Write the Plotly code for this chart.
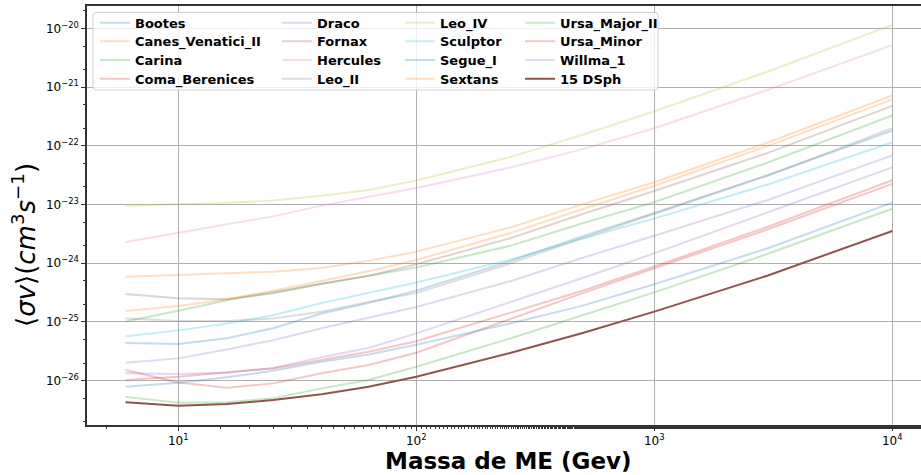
import plotly.graph_objects as go

mass = [6, 10, 16, 25, 40, 63, 100, 250, 500, 1000, 3000, 10000]

Bootes = [4.4e-26, 4.2e-26, 5.3e-26, 7.8e-26, 1.4e-25, 2.1e-25, 3.4e-25, 1.1e-24, 2.9e-24, 7.2e-24, 3.2e-23, 1.82e-22]
Canes_Venatici_II = [5.9e-25, 6.4e-25, 6.7e-25, 7.2e-25, 8.3e-25, 1.1e-24, 1.58e-24, 4.1e-24, 1.02e-23, 2.4e-23, 1.14e-22, 7.2e-22]
Carina = [1.02e-25, 1.55e-25, 2.35e-25, 3.2e-25, 4.5e-25, 6.0e-25, 8.5e-25, 2.0e-24, 4.8e-24, 1.1e-23, 5.2e-23, 3.3e-22]
Coma_Berenices = [1.52e-26, 9.3e-27, 7.6e-27, 9.0e-27, 1.34e-26, 1.85e-26, 3.0e-26, 1.15e-25, 3.1e-25, 8.2e-25, 3.8e-24, 2.25e-23]
Draco = [2.03e-26, 2.4e-26, 3.4e-26, 4.9e-26, 7.8e-26, 1.18e-25, 1.8e-25, 5.0e-25, 1.24e-24, 2.95e-24, 1.2e-23, 6.9e-23]
Fornax = [3.0e-25, 2.55e-25, 2.45e-25, 3.1e-25, 4.5e-25, 6.1e-25, 9.6e-25, 2.7e-24, 6.9e-24, 1.7e-23, 7.6e-23, 4.8e-22]
Hercules = [2.3e-24, 3.3e-24, 4.6e-24, 6.3e-24, 9.6e-24, 1.37e-23, 1.92e-23, 4.3e-23, 8.8e-23, 2.0e-22, 9.0e-22, 5.2e-21]
Leo_II = [1.15e-25, 1.04e-25, 1.04e-25, 1.15e-25, 1.5e-25, 2.2e-25, 3.1e-25, 1.0e-24, 2.7e-24, 6.9e-24, 3.1e-23, 2.0e-22]
Leo_IV = [9.6e-24, 1.01e-23, 1.07e-23, 1.17e-23, 1.42e-23, 1.78e-23, 2.57e-23, 6.5e-23, 1.55e-22, 3.9e-22, 1.85e-21, 1.15e-20]
Sculptor = [5.7e-26, 7.2e-26, 9.4e-26, 1.3e-25, 2.1e-25, 3.1e-25, 4.7e-25, 1.16e-24, 2.65e-24, 5.8e-24, 2.2e-23, 1.15e-22]
Segue_I = [7.9e-27, 9.2e-27, 1.14e-26, 1.48e-26, 2.1e-26, 2.8e-26, 4.1e-26, 9.5e-26, 1.9e-25, 4.4e-25, 1.8e-24, 1.08e-23]
Sextans = [1.54e-25, 1.87e-25, 2.45e-25, 3.4e-25, 5.0e-25, 7.3e-25, 1.14e-24, 3.3e-24, 8.4e-24, 2.1e-23, 1.0e-22, 6.2e-22]
Ursa_Major_II = [5.3e-27, 4.2e-27, 4.3e-27, 5.0e-27, 7.4e-27, 1.03e-26, 1.73e-26, 5.3e-26, 1.3e-25, 3.2e-25, 1.45e-24, 8.5e-24]
Ursa_Minor = [1.03e-26, 1.17e-26, 1.39e-26, 1.62e-26, 2.25e-26, 3.1e-26, 4.7e-26, 1.45e-25, 3.4e-25, 8.8e-25, 4.2e-24, 2.6e-23]
Willma_1 = [1.34e-26, 1.3e-26, 1.37e-26, 1.65e-26, 2.5e-26, 3.6e-26, 6.4e-26, 2.2e-25, 5.6e-25, 1.48e-24, 7.4e-24, 4.3e-23]
DSph15 = [4.3e-27, 3.75e-27, 4.0e-27, 4.7e-27, 5.9e-27, 7.9e-27, 1.17e-26, 3.0e-26, 6.5e-26, 1.5e-25, 6.2e-25, 3.55e-24]

names = ["Bootes", "Canes_Venatici_II", "Carina", "Coma_Berenices", "Draco", "Fornax",
         "Hercules", "Leo_II", "Leo_IV", "Sculptor", "Segue_I", "Sextans",
         "Ursa_Major_II", "Ursa_Minor", "Willma_1", "15 DSph"]
series = [Bootes, Canes_Venatici_II, Carina, Coma_Berenices, Draco, Fornax, Hercules,
          Leo_II, Leo_IV, Sculptor, Segue_I, Sextans, Ursa_Major_II, Ursa_Minor,
          Willma_1, DSph15]

tab10 = [(31, 119, 180), (255, 127, 14), (44, 160, 44), (214, 39, 40), (148, 103, 189),
         (140, 86, 75), (227, 119, 194), (127, 127, 127), (188, 189, 34), (23, 190, 207)]

xticks = [10, 100, 1000, 10000]
xtext = ["10<sup>1</sup>", "10<sup>2</sup>", "10<sup>3</sup>", "10<sup>4</sup>"]
yticks = [1e-26, 1e-25, 1e-24, 1e-23, 1e-22, 1e-21, 1e-20]
ytext = ["10<sup>\u221226</sup>", "10<sup>\u221225</sup>", "10<sup>\u221224</sup>",
         "10<sup>\u221223</sup>", "10<sup>\u221222</sup>", "10<sup>\u221221</sup>",
         "10<sup>\u221220</sup>"]

W, H = 921, 475
L, R, T, B = 87, 0, 6, 50
pw, ph = W - L - R, H - T - B

def px2paper_x(p):
    return (p - L) / pw

def px2paper_y(p):
    return (H - B - p) / ph

# one legend per entry so that rows/columns can be placed like matplotlib's ncol=4 legend
col_left = [95, 277, 400, 520]
row_center = [22.7, 41.3, 60.0, 78.7]
leg_font = dict(family="DejaVu Sans", size=13, color="black", weight="bold")

fig = go.Figure()
legs = {}
for i, (nm, ys) in enumerate(zip(names, series)):
    if nm == "15 DSph":
        col = "rgb(140,86,75)"
    else:
        r, g, b = tab10[i % 10]
        col = f"rgba({r},{g},{b},0.26)"
    lid = "legend" if i == 0 else f"legend{i + 1}"
    fig.add_trace(go.Scatter(
        x=mass, y=ys, mode="lines", name=nm,
        line=dict(color=col, width=2),
        legend=lid,
    ))
    c, rr = i // 4, i % 4
    legs[lid] = dict(
        orientation="v", bgcolor="rgba(0,0,0,0)", borderwidth=0,
        font=leg_font, xref="paper", yref="paper", xanchor="left", yanchor="top",
        itemwidth=30,
        x=px2paper_x(col_left[c]), y=px2paper_y(row_center[rr] - 15),
    )

# rounded legend frame
x0, x1 = px2paper_x(93), px2paper_x(658)
y0, y1 = px2paper_y(90), px2paper_y(12.5)
rx, ry = 3 / pw, 3 / ph
frame_path = (f"M {x0 + rx},{y1} L {x1 - rx},{y1} Q {x1},{y1} {x1},{y1 - ry} "
              f"L {x1},{y0 + ry} Q {x1},{y0} {x1 - rx},{y0} L {x0 + rx},{y0} "
              f"Q {x0},{y0} {x0},{y0 + ry} L {x0},{y1 - ry} Q {x0},{y1} {x0 + rx},{y1} Z")

fig.update_layout(
    width=W, height=H,
    margin=dict(l=L, r=R, t=T, b=B, autoexpand=False),
    plot_bgcolor="white", paper_bgcolor="white",
    showlegend=True,
    font=dict(family="DejaVu Sans", size=12, color="black"),
    xaxis=dict(
        type="log", range=[0.6164, 4.1206],
        tickvals=xticks, ticktext=xtext,
        showgrid=True, gridcolor="#b0b0b0", gridwidth=1.2,
        showline=True, linecolor="#333", linewidth=1.5, mirror=True,
        ticks="outside", ticklen=4, tickcolor="#333",
        tickfont=dict(family="DejaVu Sans", size=12, color="black"),
        minor=dict(ticks="outside", ticklen=2.5, tickcolor="#333", showgrid=False),
        zeroline=False,
    ),
    yaxis=dict(
        type="log", range=[-26.7547, -19.617],
        tickvals=yticks, ticktext=ytext,
        showgrid=True, gridcolor="#b0b0b0", gridwidth=1.2,
        showline=True, linecolor="#333", linewidth=1.5, mirror=False,
        ticks="outside", ticklen=4, tickcolor="#333",
        tickfont=dict(family="DejaVu Sans", size=12, color="black"),
        minor=dict(ticks="outside", ticklen=2, tickcolor="#333", showgrid=False),
        zeroline=False,
    ),
    shapes=[dict(
        type="path", path=frame_path, xref="paper", yref="paper", layer="above",
        fillcolor="rgba(255,255,255,0.8)", line=dict(color="#d0d0d0", width=1),
    )],
    annotations=[
        dict(text="Massa de ME (Gev)", xref="paper", yref="paper",
             x=px2paper_x(509), y=px2paper_y(461), xanchor="center", yanchor="middle",
             showarrow=False, font=dict(family="DejaVu Sans", size=23, color="black", weight="bold")),
        dict(text="\u27e8<i>\u03c3v</i>\u27e9(<i>cm</i><sup>3</sup><i>s</i><sup>\u22121</sup>)",
             xref="paper", yref="paper", x=px2paper_x(24), y=px2paper_y(245),
             xanchor="center", yanchor="middle", textangle=-90, showarrow=False,
             font=dict(family="DejaVu Sans", size=26, color="black")),
    ],
    **legs,
)

fig.write_html("out.html")
